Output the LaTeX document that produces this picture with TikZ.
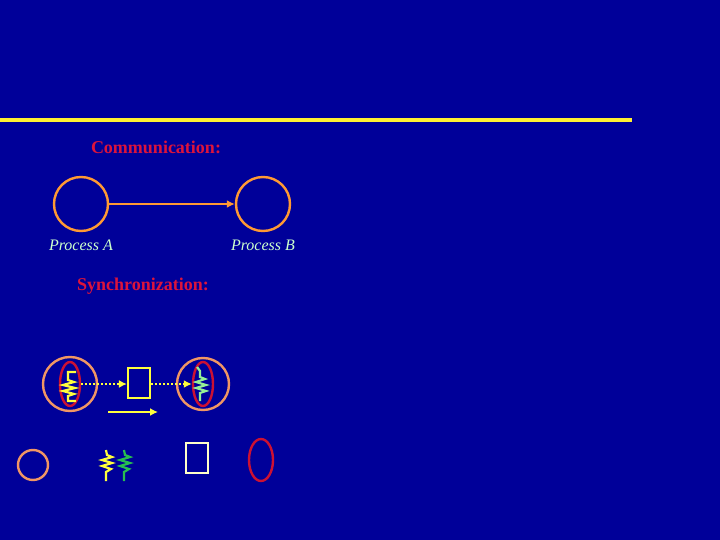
\documentclass[tikz,border=0pt]{standalone}
\usepackage{fontspec}
\setmainfont{Liberation Serif}
\usetikzlibrary{arrows.meta,shapes.geometric}
\definecolor{bg}{RGB}{0,0,153}
\definecolor{rule}{RGB}{255,240,50}
\definecolor{orng}{RGB}{255,153,51}
\definecolor{salm}{RGB}{240,150,100}
\definecolor{redl}{RGB}{204,17,51}
\definecolor{txtred}{RGB}{220,20,60}
\definecolor{pale}{RGB}{204,255,204}
\definecolor{yel}{RGB}{255,255,60}
\definecolor{grn}{RGB}{150,240,150}
\definecolor{grn2}{RGB}{40,190,80}
\definecolor{paleyel}{RGB}{255,255,200}
\tikzset{
  proc/.style={circle,draw=orng,line width=2.4pt,minimum size=54pt,inner sep=0pt},
  sproc/.style={circle,draw=salm,line width=2.4pt,inner sep=0pt},
  thr/.style={ellipse,draw=redl,line width=2.4pt,inner sep=0pt},
  bx/.style={rectangle,draw=yel,line width=2.2pt,inner sep=0pt,minimum width=22pt,minimum height=30pt},
  heading/.style={text=txtred,font=\fontsize{18}{21}\selectfont\bfseries},
  plabel/.style={text=pale,font=\fontsize{16}{19}\selectfont\itshape},
  dotarrow/.style={draw=yel,line width=2pt,dotted,-{Latex[length=8pt,width=8pt]}},
  spring/.style={line width=2.2pt,line join=miter}
}
\begin{document}
\begin{tikzpicture}[x=1pt,y=-1pt]
\fill[bg] (0,0) rectangle (720,540);
\useasboundingbox (0,0) rectangle (720,540);
% top rule
\fill[rule] (0,118) rectangle (632,122);
% Communication
\node[heading] (comm) at (156,147) {Communication:};
\node[proc] (pa) at (81,204) {};
\node[proc] (pb) at (263,204) {};
\draw[orng,line width=2.4pt,-{Latex[length=8pt,width=8pt]}] (pa) -- (pb);
\node[plabel] (la) at (81,245) {Process A};
\node[plabel] (lb) at (263,245) {Process B};
% Synchronization
\node[heading] (sync) at (143,286) {Synchronization:};
\node[sproc,minimum size=54pt] (sa) at (70,384) {};
\node[thr,minimum width=20pt,minimum height=44pt] (ea) at (70,384) {};
\node[sproc,minimum size=52pt] (sb) at (203,384) {};
\node[thr,minimum width=20pt,minimum height=44pt] (eb) at (203,384) {};
\node[bx] (box) at (139,383) {};
% spring in left thread
\draw[spring,yel] (76,372) -- (68,372) -- (68,380) -- (74,382) -- (63,385) -- (75,388) -- (63,391) -- (74,394) -- (68,396) -- (68,401) -- (76,401);
% spring in right thread
\draw[spring,grn] (197,367) -- (200,371) -- (200,377) -- (205,379) -- (196,382) -- (206,385) -- (196,388) -- (206,391) -- (200,393) -- (200,401);
\draw[dotarrow] (ea.east) -- (ea.east -| box.west);
\draw[dotarrow] (box.east |- eb.west) -- (eb.west);
\coordinate (s1) at (108,412);
\coordinate (s2) at (158,412);
\draw[yel,line width=2.2pt,-{Latex[length=8pt,width=8pt]}] (s1) -- (s2);
% legend row
\node[sproc,minimum size=30pt] (lc) at (33,465) {};
\draw[spring,yel] (106,450) -- (107,455) -- (112,457) -- (102,460) -- (112,463) -- (102,466) -- (111,469) -- (106,472) -- (106,481);
\draw[spring,grn2] (124,450) -- (125,455) -- (130,457) -- (120,460) -- (130,463) -- (120,466) -- (129,469) -- (124,472) -- (124,481);
\node[rectangle,draw=paleyel,line width=2.4pt,minimum width=22pt,minimum height=30pt,inner sep=0pt] (lbx) at (197,458) {};
\node[thr,minimum width=24pt,minimum height=42pt] (le) at (261,460) {};
\end{tikzpicture}
\end{document}
